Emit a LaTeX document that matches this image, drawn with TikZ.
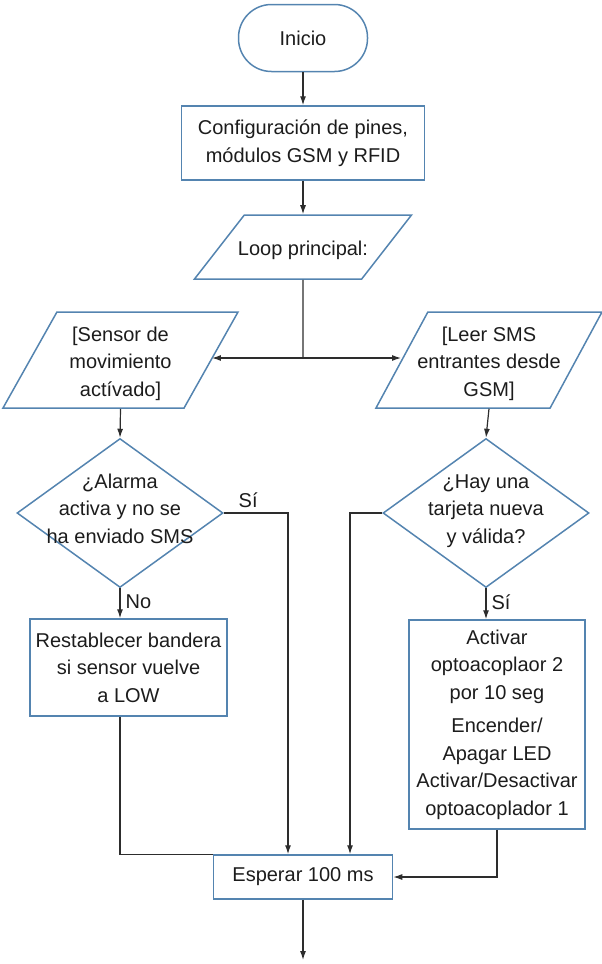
\documentclass[tikz,border=0pt]{standalone}
\usepackage{fontspec}
\setmainfont{Liberation Sans}
\usetikzlibrary{shapes.geometric,arrows.meta}
\definecolor{boxblue}{RGB}{84,132,176}
\definecolor{linegray}{RGB}{45,45,45}
\definecolor{textgray}{RGB}{28,28,28}
% text that does not change the size of its shape
\newcommand{\ctext}[2][-5pt]{\makebox[1pt]{\smash{\raisebox{#1}{\begin{tabular}{@{}c@{}}#2\end{tabular}}}}\rule[-0.5pt]{0pt}{1pt}}
\tikzset{
  base/.style={draw=boxblue, line width=1.5pt, text=textgray, font=\fontsize{20pt}{27.5pt}\selectfont},
  terminal/.style={base, rectangle, rounded corners=33pt, minimum width=129pt, minimum height=67pt},
  process/.style={base, rectangle, align=center, inner sep=0pt},
  io/.style={base, trapezium, trapezium left angle=67, trapezium right angle=113, trapezium stretches=true, inner sep=0pt},
  decision/.style={base, diamond, inner sep=0pt, minimum width=206pt, minimum height=149pt},
  flow/.style={draw=linegray, line width=1.2pt, -{Latex[length=9pt,width=6pt]}},
  link/.style={draw=linegray, line width=1.2pt},
  lbl/.style={text=textgray, font=\fontsize{20pt}{24pt}\selectfont, inner sep=5pt}
}
\begin{document}
\begin{tikzpicture}[x=1pt,y=-1pt]
    \useasboundingbox (0,0) rectangle (602,964);
    \node[terminal] (inicio) at (303,38) {Inicio};
    \node[process, minimum width=243pt, minimum height=74pt] (config) at (303,143) {Configuración de pines,\\módulos GSM y RFID};
    \node[io, minimum width=217pt, minimum height=64pt] (loop) at (303,247) {\ctext[-8pt]{Loop principal:}};
    \coordinate (split) at (303,358);
    \node[io, minimum width=235pt, minimum height=96pt] (sensor) at (120.5,360) {\ctext[-8.5pt]{[Sensor de\\movimiento\\actívado]}};
    \node[io, minimum width=226pt, minimum height=96pt] (sms) at (489,360) {\ctext[-8.5pt]{[Leer SMS\\entrantes desde\\GSM]}};
    \node[decision] (alarma) at (120,513) {\ctext[-2.5pt]{¿Alarma\\activa y no se\\ha enviado SMS}};
    \node[decision] (tarjeta) at (486,513) {\ctext[-2.5pt]{¿Hay una\\tarjeta nueva\\y válida?}};
    \node[process, minimum width=197pt, minimum height=97pt] (restablecer) at (128.5,667.5) {Restablecer bandera\\si sensor vuelve\\a LOW};
    \node[process, minimum width=176pt, minimum height=209pt] (activar) at (497,724.5) {Activar\\optoacoplaor 2\\por 10 seg\\[6pt]Encender/\\Apagar LED\\Activar/Desactivar\\optoacoplador 1};
    \node[process, minimum width=179pt, minimum height=44pt] (esperar) at (303,877) {Esperar 100 ms};
    \coordinate (fin) at (303,960);
    % connectors
    \draw[flow] (inicio) -- (config);
    \draw[flow] (config) -- (loop);
    \draw[link] (loop.south) -- (split);
    \draw[flow] (split) -- (split -| sensor.east);
    \draw[flow] (split) -- (split -| sms.west);
    \draw[flow] (sensor.south) -- (alarma.north);
    \draw[flow] (sms.south) -- (tarjeta.north);
    \draw[flow] (alarma.south) -- node[lbl, right, pos=0.45] {No} (alarma.south |- restablecer.north);
    \draw[flow] (tarjeta.south) -- node[lbl, right, pos=0.45] {Sí} (tarjeta.south |- activar.north);
    \draw[flow] (alarma.east) -| node[lbl, above, pos=0.19] {Sí} ([xshift=-15pt]esperar.north);
    \draw[flow] (tarjeta.west) -| ([xshift=47pt]esperar.north);
    \draw[link] (alarma.south |- restablecer.south) |- (esperar.north west);
    \draw[flow] (activar.south) |- (esperar.east);
    \draw[flow] (esperar) -- (fin);
\end{tikzpicture}
\end{document}
